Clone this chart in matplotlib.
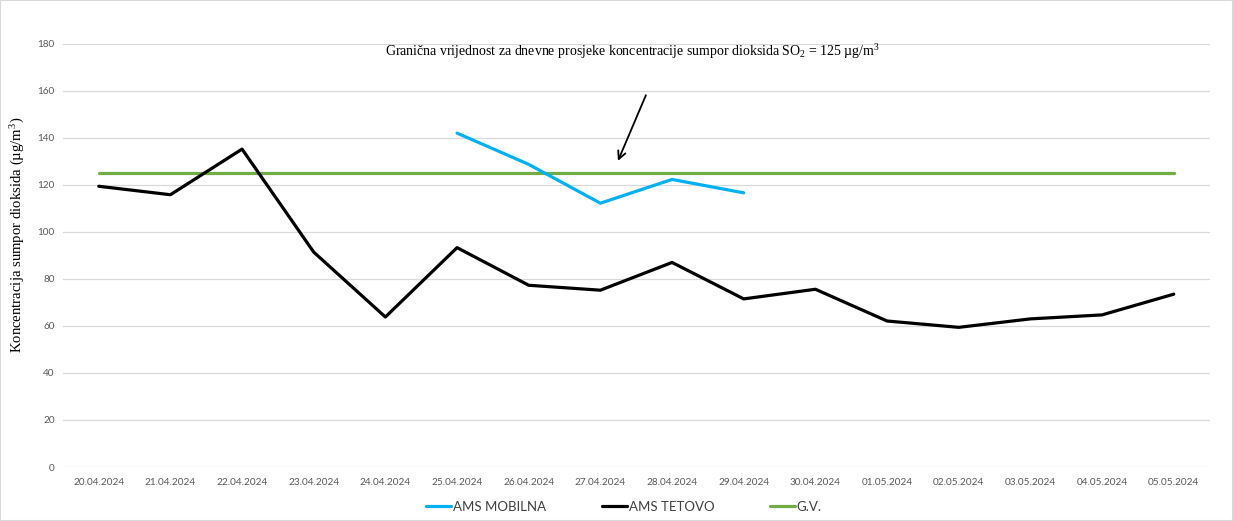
import matplotlib
matplotlib.use("Agg")
import matplotlib.pyplot as plt
from matplotlib.patches import Rectangle

plt.rcParams["mathtext.fontset"] = "custom"
plt.rcParams["mathtext.rm"] = "Liberation Serif"
plt.rcParams["mathtext.it"] = "Liberation Serif:italic"
plt.rcParams["mathtext.bf"] = "Liberation Serif:bold"

dates = ["20.04.2024", "21.04.2024", "22.04.2024", "23.04.2024", "24.04.2024",
         "25.04.2024", "26.04.2024", "27.04.2024", "28.04.2024", "29.04.2024",
         "30.04.2024", "01.05.2024", "02.05.2024", "03.05.2024", "04.05.2024",
         "05.05.2024"]
ams_tetovo = [119.4, 115.8, 135.2, 91.4, 63.8, 93.3, 77.3, 75.2, 87.0, 71.5,
              75.6, 62.1, 59.4, 63.0, 64.7, 73.5]
ams_mobilna_dates = ["25.04.2024", "26.04.2024", "27.04.2024", "28.04.2024", "29.04.2024"]
ams_mobilna = [142.0, 128.7, 112.2, 122.3, 116.6]
limit_value = 125
yticks = list(range(0, 181, 20))

x = list(range(len(dates)))
xm = [dates.index(d) for d in ams_mobilna_dates]

fig = plt.figure(figsize=(12.33, 5.21), dpi=100)
ax = fig.add_axes([0.051, 0.1036, 0.930, 0.8124])

tick_font = "Lato"
ax.plot(xm, ams_mobilna, color="#00B0F0", lw=2.3, label="AMS MOBILNA", solid_capstyle="round", zorder=3)
ax.plot(x, ams_tetovo, color="#000000", lw=2.3, label="AMS TETOVO", solid_capstyle="round", zorder=3)
ax.plot(x, [limit_value] * len(x), color="#70AD47", lw=2.3, label="G.V.", solid_capstyle="round", zorder=2)

ax.set_xlim(-0.5, len(dates) - 0.5)
ax.set_ylim(0, 180)
ax.set_yticks(yticks)
ax.set_xticks(x)
ax.set_xticklabels(dates, fontsize=7.2, color="#595959", family=tick_font)
ax.set_yticklabels([str(v) for v in yticks], fontsize=7.2, color="#595959", family=tick_font)
ax.tick_params(axis="y", length=0, pad=5.8)
ax.tick_params(axis="x", length=0, pad=8)
ax.grid(axis="y", color="#D9D9D9", lw=0.9)
ax.set_axisbelow(True)
for s in ax.spines.values():
    s.set_visible(False)

ax.set_ylabel("Koncentracija sumpor dioksida (µg/m$^{3}$)", family="Liberation Serif",
              fontsize=10.6, color="#000000")
ax.yaxis.set_label_coords(-0.031, 0.548)

ax.text(7.45, 176.5, "Granična vrijednost za dnevne prosjeke koncentracije sumpor dioksida SO$_{2}$ = 125 µg/m$^{3}$",
        family="Liberation Serif", fontsize=10, ha="center", va="center", color="#000000")
ax.annotate("", xy=(7.23, 129.1), xytext=(7.65, 159.2),
            arrowprops=dict(arrowstyle="->", color="#000000", lw=1.3, mutation_scale=14))

leg = fig.legend(loc="center", bbox_to_anchor=(0.506, 0.027), ncol=3, frameon=False,
                 prop={"family": tick_font, "size": 9.5}, handlelength=1.9,
                 handletextpad=0.15, columnspacing=4.2)
for t in leg.get_texts():
    t.set_color("#404040")

fig.patches.append(Rectangle((0, 0), 1, 1, transform=fig.transFigure, fill=False,
                             edgecolor="#D9D9D9", lw=1.5))

fig.savefig("out.png", dpi=100, facecolor="white")
